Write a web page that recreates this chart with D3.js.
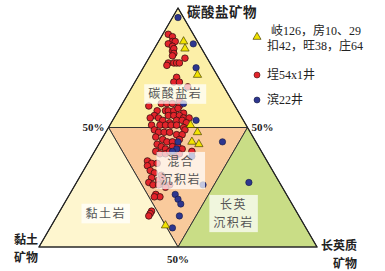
<!DOCTYPE html>
<html>
<head>
<meta charset="utf-8">
<script src="https://cdn.jsdelivr.net/npm/d3@7"></script>
<style>
  body { margin: 0; background: #fff; }
  svg { display: block; }
</style>
</head>
<body>
<div id="chart"></div>
<script>
// Ternary plot: carbonate / clay / felsic minerals, values in % [carbonate, clay, felsic]
const seriesNames = ["岐126，房10、29|扣42，旺38，庄64", "埕54x1井", "滨22井"];

const yellowPts = [
  [86, 5, 9], [83, 6, 11], [72, 7, 21], [51, 20, 29], [48, 19, 33],
  [44, 23, 33], [43, 21, 36], [9, 50, 41]
];

const redPts = [
  [89, 9, 2], [88, 8, 4], [86, 9, 5], [86, 8, 6], [85, 11, 4], [84, 10, 6],
  [82, 11, 7], [83, 10, 7], [81, 11, 8], [80, 12, 8], [79, 8, 13], [77, 15, 8],
  [77, 13, 10], [77, 12, 11], [77, 11, 12], [76, 16, 8], [71, 15, 14], [69, 17, 14],
  [69, 15, 16], [67, 13, 20], [59, 31, 10], [60, 26, 14], [60, 24, 16], [60, 22, 18],
  [61, 19, 20], [59, 20, 21], [57, 29, 14], [57, 26, 17], [57, 25, 18], [57, 23, 20],
  [58, 21, 21], [56, 20, 24], [55, 31, 14], [54, 30, 16], [55, 26, 19], [55, 24, 21],
  [55, 22, 23], [54, 21, 25], [54, 19, 27], [54, 33, 13], [53, 29, 18], [52, 27, 21],
  [53, 24, 23], [53, 22, 25], [52, 21, 27], [51, 34, 15], [51, 31, 18], [51, 29, 20],
  [51, 27, 22], [51, 25, 24], [50, 23, 27], [49, 23, 28], [49, 34, 17], [48, 33, 19],
  [48, 31, 21], [48, 29, 23], [47, 27, 26], [47, 25, 28], [46, 35, 19], [45, 33, 22],
  [44, 32, 24], [44, 30, 26], [45, 27, 28], [43, 36, 21], [42, 35, 23], [41, 34, 25],
  [42, 31, 27], [42, 29, 29], [41, 28, 31], [40, 25, 35], [40, 38, 22], [39, 37, 24],
  [39, 35, 26], [40, 33, 27], [38, 32, 30], [39, 30, 31], [36, 43, 21], [35, 42, 23],
  [35, 40, 25], [34, 44, 22], [32, 44, 24], [31, 43, 26], [30, 41, 29], [29, 45, 26],
  [28, 43, 29], [29, 41, 30], [27, 47, 26], [26, 46, 28], [26, 44, 30], [26, 42, 32],
  [26, 40, 34], [25, 42, 33], [22, 47, 31], [21, 46, 33], [21, 48, 31], [15, 52, 33],
  [14, 53, 33], [13, 54, 33]
];

const bluePts = [
  [96, 2, 2], [85, 2, 13], [75, 6, 19], [60, 18, 22], [53, 17, 30], [44, 28, 28],
  [41, 30, 29], [40, 32, 28], [38, 26, 36], [44, 12, 44], [26, 28, 46], [22, 40, 38],
  [20, 40, 40], [18, 40, 42], [13, 43, 44], [8, 48, 44], [27, 11, 62]
];

const fieldNames = ["碳酸盐岩", "混合|沉积岩", "黏土岩", "长英|沉积岩"];
const cornerNames = ["碳酸盐矿物", "黏土|矿物", "长英质|矿物"];
const midTicks = ["50%", "50%", "50%"];

const W = 385, H = 271;
const svg = d3.select("#chart").append("svg")
  .attr("width", W).attr("height", H)
  .attr("font-family", "'Noto Sans CJK SC', sans-serif");

// horizontal position driven by felsic + carbonate/2, vertical by carbonate
const xs = d3.scaleLinear().domain([0, 100]).range([39, 317]);
const ys = d3.scaleLinear().domain([0, 100]).range([247, 8]);
const proj = d => [xs(d[2] + d[0] / 2), ys(d[0])];

// vertices in ternary coords
const A = [100, 0, 0], L = [0, 100, 0], R = [0, 0, 100];
const mL = [50, 50, 0], mR = [50, 0, 50], mB = [0, 50, 50];

const fields = [
  { pts: [A, mL, mR], fill: "#fcefa8" },
  { pts: [mL, mR, mB], fill: "#f9ca9c" },
  { pts: [L, mL, mB], fill: "#fef6cf" },
  { pts: [R, mR, mB], fill: "#c9dd86" }
];

svg.selectAll(".field")
  .data(fields)
  .join("polygon")
  .attr("points", d => d.pts.map(p => proj(p).join(",")).join(" "))
  .attr("fill", d => d.fill)
  .attr("stroke", "#333")
  .attr("stroke-width", 1);

// outer triangle
svg.append("polygon")
  .attr("points", [A, L, R].map(p => proj(p).join(",")).join(" "))
  .attr("fill", "none").attr("stroke", "#222").attr("stroke-width", 1.2);

// points
svg.selectAll(".red")
  .data(redPts)
  .join("circle")
  .attr("cx", d => proj(d)[0]).attr("cy", d => proj(d)[1])
  .attr("r", 3.3)
  .attr("fill", "#e3242b").attr("stroke", "#3a1010").attr("stroke-width", 0.8);

svg.selectAll(".blue")
  .data(bluePts)
  .join("circle")
  .attr("cx", d => proj(d)[0]).attr("cy", d => proj(d)[1])
  .attr("r", 3.2)
  .attr("fill", "#2d368f").attr("stroke", "#151a40").attr("stroke-width", 0.6);

const tri = d3.symbol().type(d3.symbolTriangle).size(30);
svg.selectAll(".yel")
  .data(yellowPts)
  .join("path")
  .attr("d", tri)
  .attr("transform", d => `translate(${proj(d)[0]},${proj(d)[1]})`)
  .attr("fill", "#f2e300").attr("stroke", "#4a4400").attr("stroke-width", 0.7);

// multi-line text as a single element with tspans
function multiText(sel, lines, x, y0, lh) {
  const t = sel.append("text").attr("x", x).attr("y", y0);
  lines.forEach((l, j) => {
    t.append("tspan").attr("x", x).attr("y", y0 + j * lh).attr("dy", "0.36em").text(l);
  });
  return t;
}

// field labels with translucent boxes
const fieldLabelPos = [[64, 19, 17], [32, 33, 35], [14, 69, 17], [14, 23, 63]];
fieldNames.forEach((name, i) => {
  const lines = name.split("|");
  const [cx, cy] = proj(fieldLabelPos[i]);
  const fs = 12, lh = 17.6;
  const w = d3.max(lines, l => l.length) * (fs + 1.5) + 8;
  const h = lines.length * lh + 2;
  svg.append("rect")
    .attr("x", cx - w / 2).attr("y", cy - h / 2)
    .attr("width", w).attr("height", h)
    .attr("fill", "#fff").attr("opacity", 0.72);
  multiText(svg, lines, cx, cy - h / 2 + 1 + lh / 2, lh)
    .attr("text-anchor", "middle")
    .attr("font-size", fs).attr("fill", "#555")
    .attr("letter-spacing", 1.5);
});

// 50% tick labels
const tickStyle = s => s.attr("font-family", "'Liberation Serif', serif")
  .attr("font-weight", "bold").attr("font-size", 11).attr("fill", "#222");
svg.append("text").call(tickStyle)
  .attr("x", proj(mL)[0] - 4).attr("y", proj(mL)[1]).attr("dy", "0.35em")
  .attr("text-anchor", "end").text(midTicks[0]);
svg.append("text").call(tickStyle)
  .attr("x", proj(mR)[0] + 4).attr("y", proj(mR)[1]).attr("dy", "0.35em")
  .attr("text-anchor", "start").text(midTicks[1]);
svg.append("text").call(tickStyle)
  .attr("x", proj(mB)[0]).attr("y", proj(mB)[1] + 12).attr("dy", "0.35em")
  .attr("text-anchor", "middle").text(midTicks[2]);

// corner labels
const cornerStyle = s => s.attr("font-size", 12).attr("font-weight", "bold").attr("fill", "#222");
svg.append("text").call(cornerStyle)
  .attr("font-size", 13.5).attr("letter-spacing", 0.5)
  .attr("x", proj(A)[0] + 9).attr("y", proj(A)[1] + 4).attr("dy", "0.35em")
  .text(cornerNames[0]);
multiText(svg, cornerNames[1].split("|"), 38, 240, 18).call(cornerStyle)
  .attr("text-anchor", "end");
multiText(svg, cornerNames[2].split("|"), 357, 246, 18).call(cornerStyle)
  .attr("text-anchor", "end");

// legend
const leg = svg.append("g").attr("font-family", "'Liberation Serif', 'Noto Sans CJK SC', serif")
  .attr("font-size", 12).attr("fill", "#222");
leg.append("path").attr("d", d3.symbol().type(d3.symbolTriangle).size(28))
  .attr("transform", "translate(257,37)")
  .attr("fill", "#f2e300").attr("stroke", "#4a4400").attr("stroke-width", 0.7);
const yl = seriesNames[0].split("|");
leg.append("text").attr("x", 271).attr("y", 31).attr("dy", "0.35em").text(yl[0]);
leg.append("text").attr("x", 267).attr("y", 46).attr("dy", "0.35em").text(yl[1]);
leg.append("circle").attr("cx", 257).attr("cy", 75).attr("r", 3)
  .attr("fill", "#e3242b").attr("stroke", "#3a1010").attr("stroke-width", 0.6);
leg.append("text").attr("x", 267).attr("y", 75).attr("dy", "0.35em").text(seriesNames[1]);
leg.append("circle").attr("cx", 257).attr("cy", 100).attr("r", 3)
  .attr("fill", "#2d368f").attr("stroke", "#151a40").attr("stroke-width", 0.6);
leg.append("text").attr("x", 267).attr("y", 100).attr("dy", "0.35em").text(seriesNames[2]);
</script>
</body>
</html>
